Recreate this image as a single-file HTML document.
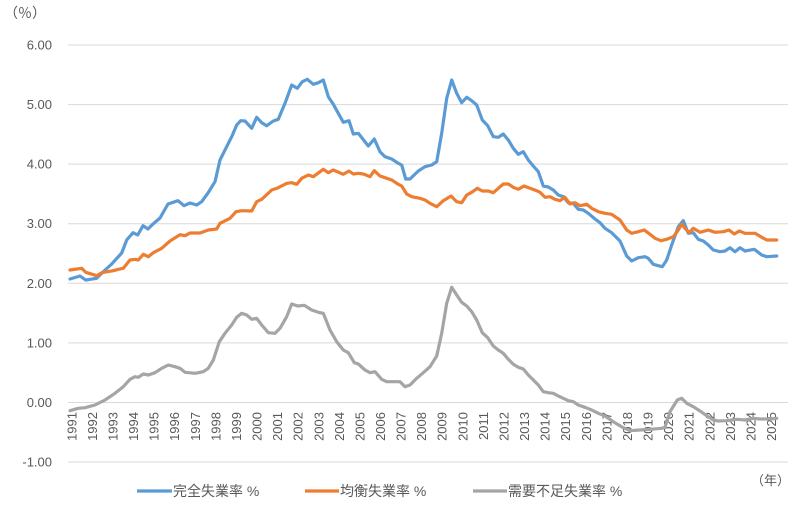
<!DOCTYPE html>
<html>
<head>
<meta charset="utf-8">
<style>
  html,body{margin:0;padding:0;background:#fff;}
  svg{display:block;}
  text{font-family:"Liberation Sans","Noto Sans CJK JP",sans-serif;fill:#595959;}
</style>
</head>
<body>
<svg width="800" height="512" viewBox="0 0 800 512" xmlns="http://www.w3.org/2000/svg">
  <!-- gridlines -->
  <g stroke="#d9d9d9" stroke-width="1">
    <line x1="68" y1="45" x2="788" y2="45"/>
    <line x1="68" y1="104.6" x2="788" y2="104.6"/>
    <line x1="68" y1="164.1" x2="788" y2="164.1"/>
    <line x1="68" y1="223.7" x2="788" y2="223.7"/>
    <line x1="68" y1="283.3" x2="788" y2="283.3"/>
    <line x1="68" y1="342.9" x2="788" y2="342.9"/>
    <line x1="68" y1="402.5" x2="788" y2="402.5"/>
    <line x1="68" y1="462" x2="788" y2="462"/>
  </g>
  <!-- y labels -->
  <g font-size="13" text-anchor="end">
    <text x="52" y="49.5">6.00</text>
    <text x="52" y="109">5.00</text>
    <text x="52" y="168.6">4.00</text>
    <text x="52" y="228.2">3.00</text>
    <text x="52" y="287.8">2.00</text>
    <text x="52" y="347.4">1.00</text>
    <text x="52" y="407">0.00</text>
    <text x="52" y="466.5">-1.00</text>
  </g>
  <text x="4" y="18" font-size="14">（％）</text>
  <text x="751" y="485" font-size="13">（年）</text>
  <!-- x labels -->
  <g font-size="13" text-anchor="end">
    <text transform="translate(71.7,412) rotate(-90)" dy="0.35em">1991</text>
    <text transform="translate(92.3,412) rotate(-90)" dy="0.35em">1992</text>
    <text transform="translate(112.9,412) rotate(-90)" dy="0.35em">1993</text>
    <text transform="translate(133.4,412) rotate(-90)" dy="0.35em">1994</text>
    <text transform="translate(154,412) rotate(-90)" dy="0.35em">1995</text>
    <text transform="translate(174.6,412) rotate(-90)" dy="0.35em">1996</text>
    <text transform="translate(195.2,412) rotate(-90)" dy="0.35em">1997</text>
    <text transform="translate(215.8,412) rotate(-90)" dy="0.35em">1998</text>
    <text transform="translate(236.3,412) rotate(-90)" dy="0.35em">1999</text>
    <text transform="translate(256.9,412) rotate(-90)" dy="0.35em">2000</text>
    <text transform="translate(277.5,412) rotate(-90)" dy="0.35em">2001</text>
    <text transform="translate(298.1,412) rotate(-90)" dy="0.35em">2002</text>
    <text transform="translate(318.7,412) rotate(-90)" dy="0.35em">2003</text>
    <text transform="translate(339.2,412) rotate(-90)" dy="0.35em">2004</text>
    <text transform="translate(359.8,412) rotate(-90)" dy="0.35em">2005</text>
    <text transform="translate(380.4,412) rotate(-90)" dy="0.35em">2006</text>
    <text transform="translate(401,412) rotate(-90)" dy="0.35em">2007</text>
    <text transform="translate(421.6,412) rotate(-90)" dy="0.35em">2008</text>
    <text transform="translate(442.1,412) rotate(-90)" dy="0.35em">2009</text>
    <text transform="translate(462.7,412) rotate(-90)" dy="0.35em">2010</text>
    <text transform="translate(483.3,412) rotate(-90)" dy="0.35em">2011</text>
    <text transform="translate(503.9,412) rotate(-90)" dy="0.35em">2012</text>
    <text transform="translate(524.5,412) rotate(-90)" dy="0.35em">2013</text>
    <text transform="translate(545,412) rotate(-90)" dy="0.35em">2014</text>
    <text transform="translate(565.6,412) rotate(-90)" dy="0.35em">2015</text>
    <text transform="translate(586.2,412) rotate(-90)" dy="0.35em">2016</text>
    <text transform="translate(606.8,412) rotate(-90)" dy="0.35em">2017</text>
    <text transform="translate(627.4,412) rotate(-90)" dy="0.35em">2018</text>
    <text transform="translate(647.9,412) rotate(-90)" dy="0.35em">2019</text>
    <text transform="translate(668.5,412) rotate(-90)" dy="0.35em">2020</text>
    <text transform="translate(689.1,412) rotate(-90)" dy="0.35em">2021</text>
    <text transform="translate(709.7,412) rotate(-90)" dy="0.35em">2022</text>
    <text transform="translate(730.3,412) rotate(-90)" dy="0.35em">2023</text>
    <text transform="translate(750.8,412) rotate(-90)" dy="0.35em">2024</text>
    <text transform="translate(771.4,412) rotate(-90)" dy="0.35em">2025</text>
  </g>
  <!-- series -->
  <g fill="none" stroke-width="3.2" stroke-linejoin="round" stroke-linecap="round">
    <polyline stroke="#5B9BD5" points="70,279 80,276 85.7,280 96.7,278.3 103,272 111.7,264 121.7,253 126.7,240 133,232.7 137.7,235 143,225.7 148,229 153,224 160,218 168,204 178,200.7 184,205.7 190,203 196.7,205 201.7,201.7 208,193 215,181.7 220,160 225,150 231.7,136.7 236.7,125 240.7,120.7 245,121 251.7,128.3 256.7,117.3 261.7,122.7 266.7,125.7 273.3,121 278.3,119.3 285,103.3 291.7,85 297.3,88.3 302.3,81.7 307.3,79.3 313.3,84.3 318.3,82.7 323.3,80 328.3,96.7 333.3,104.3 343.3,122.3 349,120.7 353.3,134 358.3,133.3 368.3,146 374.3,139 380,151.7 385,156.7 391.7,159 398.3,163.3 401.7,165 405.7,179 410,179 418.3,171 425,166.7 431.7,165 436.7,161.7 441.7,133.3 446.7,98.3 451.7,80 456.7,93.3 461.7,102.7 466.7,97.3 471.7,100.7 476.7,105 482.3,120 487.7,125.7 493.3,136.7 498.3,137.3 503.3,134 508.3,140 513.3,148.3 518.3,154.3 523.3,151.7 528.3,160 533.3,166 538.3,171.7 543.3,186 548.3,187 553.3,190 558.3,195 563.3,196.7 568.3,202.7 573.3,203.3 578.3,209.3 583.3,210 588.3,213.3 595,219 600,222.7 605,228.3 611.7,232.7 620,241 626.7,256 631.7,261 638.3,257.7 645,256.7 648.3,258.3 653.3,264.3 658.3,265.7 662.3,266.7 666.7,260 671.7,245 678.3,226.7 683.3,220.7 688.3,233.3 693.3,232.7 698.3,239.3 703.3,241 708.3,245 713.3,250 720,251.7 725,251 730,247.7 735,251.7 740,247.7 745,251 754.3,249.3 761.7,255 766.7,256.7 776.7,256"/>
    <polyline stroke="#ED7D31" points="70,270 81.7,268.3 85.7,272.3 96.7,275.7 101.7,272.7 113.3,270.7 118.3,269.3 123.3,268.3 130,260 135,259.3 138.3,260 143.3,254.3 148.3,256.7 153.3,252.7 161.7,248.3 170,241 180,234.7 185,235.7 190,233 200,233 208.3,230 216.7,229 220,223.3 230,218.3 236,211.7 241.7,210.7 251.7,211 256.7,201.7 261.7,199.3 271.7,190 278.3,187.7 286.7,183.3 291.7,182.7 296.7,184.3 301.7,178.3 308.3,175 313.3,176.7 323.3,169.3 328.3,172.7 333.3,170 343.3,174.3 349,171 353.3,174 358.3,173.3 363.3,174 370,176.7 374.3,170.7 380,176 385,177.7 391.7,180 398.3,184.3 401.7,186 406.7,194 411.7,196.7 420,198.3 425,200 430,203.3 436.7,206.7 443.3,200.7 451,196 456.7,201.7 461.7,202.7 466.7,195 471.7,192.3 477.3,188.3 482.3,191 488.3,191 493.3,192.7 498.3,188.3 503.3,184 508.3,184 513.3,187.3 518.3,189.3 524,186 530,188.3 536.7,190.7 540,192.3 545,197.3 550,196.7 555,199.3 560,200.7 565,197.3 570,204 575,202.7 580,205.7 586.7,204.3 591.7,208.3 598.3,211.7 605,213.3 611.7,214.3 620,220 626.7,230 631.7,233.3 638.3,231.7 644.3,230 650,234.3 655,238.3 661,240.7 666.7,239.3 673.3,236.7 678.3,230 681.7,224.3 685,228.3 689,232.7 693.3,228.3 700,232.3 708.3,230 715,232.3 723.3,231.7 729,230 734.3,234 739.3,231 745,233.3 755,233.3 761.7,237.3 766.7,240 776.7,240"/>
    <polyline stroke="#A5A5A5" points="70,410.7 78.3,408.3 85,407.7 95,405 105,400 115,393.3 123.3,386.7 130,379.3 135,376.7 138.3,377.3 143.3,374 148.3,375 155,372.7 161.7,368.3 168.3,365 175,366.7 180,368.3 185,372.3 195,373.3 203.3,371.7 208.3,368.3 213.3,360 219.3,341.7 225,333.3 231.7,325 236.7,317.3 241.7,313.3 246.7,315 251.7,319.3 256.7,318.3 261.7,325 268.3,332.7 275,333.3 280,328.3 286.7,316.7 291.7,304 297.7,306 304.3,305.3 311.7,310 318.3,312.3 323.3,313.3 330,330 336.7,341.7 343.3,350 348.3,352.7 354.3,362.7 358.3,364 365,370 370,372.7 375,371.7 381.7,379.3 386.7,381.7 400,381.7 405,386.7 410,385 416.7,378.3 423.3,372.7 430,366.7 436.7,356 441.7,333.3 446.7,303.3 451.7,287.3 456.7,295 461.7,302.3 466.7,306 471.7,311.7 476.7,320 482.3,332.7 487.7,337.7 493.3,346 498.3,350 503.3,353.3 508.3,359.3 513.3,364.3 518.3,367.3 523.3,369 528.3,375 533.3,380 538.3,385 543.3,391.7 548.3,392.7 553.3,393.3 558.3,396 563.3,398.3 568.3,400.7 573.3,401.7 578.3,405 585,407.3 591.7,410 598.3,413.3 605,416 613.3,421.7 623.3,427.7 630,430.7 640,430 650,429.3 661.7,428.3 665,427.3 670,411.7 677.3,400 681.7,398.3 686.7,403.3 693.3,406.7 700,411 706.7,415.7 713.3,420 718.3,421 726.7,420.7 736.7,419.3 745,420 753.3,418.3 760,419 770,419 776.7,418.3"/>
  </g>
  <!-- legend -->
  <g stroke-width="3.2">
    <line x1="137" y1="491" x2="172" y2="491" stroke="#5B9BD5"/>
    <line x1="305" y1="491" x2="339" y2="491" stroke="#ED7D31"/>
    <line x1="473" y1="491" x2="507" y2="491" stroke="#A5A5A5"/>
  </g>
  <g font-size="14">
    <text x="173" y="496">完全失業率 %</text>
    <text x="340" y="496">均衡失業率 %</text>
    <text x="508" y="496">需要不足失業率 %</text>
  </g>
</svg>
</body>
</html>
